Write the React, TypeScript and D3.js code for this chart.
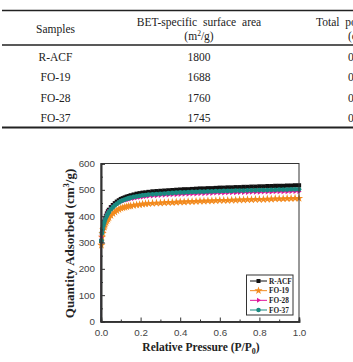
import React, { useEffect, useRef } from 'react';
import * as d3 from 'd3';

// table contents
const sampleNames = ['R-ACF', 'FO-19', 'FO-28', 'FO-37'];
const betArea = ['1800', '1688', '1760', '1745'];
const poreVolume = ['0.81', '0.77', '0.80', '0.79'];

// N2 isotherm: relative pressure and quantity adsorbed (cm3/g)
const pressure = [
  0, 0.002, 0.005, 0.008, 0.012, 0.016, 0.02, 0.025, 0.03, 0.035, 0.04, 0.05, 0.06, 0.07, 0.08, 0.09,
  0.1, 0.11, 0.12, 0.13, 0.14, 0.15, 0.165, 0.18, 0.195, 0.21, 0.225, 0.24, 0.26, 0.28, 0.3, 0.32,
  0.34, 0.36, 0.38, 0.4, 0.42, 0.44, 0.46, 0.48, 0.5, 0.52, 0.54, 0.56, 0.58, 0.6, 0.62, 0.64,
  0.66, 0.68, 0.7, 0.72, 0.74, 0.76, 0.78, 0.8, 0.82, 0.84, 0.86, 0.88, 0.9, 0.92, 0.94, 0.96, 0.98, 1.0,
];
const racf = [
  0, 305, 335, 350, 365, 378, 390, 401, 410, 418, 424, 434, 442, 449, 455, 460,
  465, 468, 471, 474, 476, 479, 482, 485, 487, 489, 490, 492, 494, 495, 496, 497,
  498, 499, 500, 501, 502, 502, 503, 504, 505, 505, 506, 506, 507, 508, 508, 509,
  509, 510, 510, 511, 511, 512, 512, 513, 513, 514, 514, 515, 515, 515, 516, 516, 517, 517,
];
const fo19 = [
  0, 290, 320, 335, 348, 358, 367, 376, 383, 389, 394, 403, 410, 416, 421, 426,
  430, 432, 434, 436, 438, 439, 441, 443, 444, 446, 447, 448, 449, 450, 450, 451,
  452, 452, 453, 454, 454, 455, 455, 456, 457, 457, 458, 458, 459, 460, 460, 460,
  461, 461, 462, 462, 463, 463, 464, 464, 464, 465, 465, 466, 466, 466, 467, 467, 468, 468,
];
const fo28 = [
  0, 320, 342, 355, 368, 379, 388, 397, 405, 412, 418, 427, 435, 441, 446, 451,
  455, 458, 460, 462, 464, 466, 468, 470, 472, 473, 475, 476, 477, 478, 479, 480,
  481, 482, 482, 483, 484, 484, 485, 485, 486, 486, 487, 487, 488, 488, 488, 489,
  489, 489, 490, 490, 490, 491, 491, 491, 492, 492, 492, 493, 493, 493, 493, 494, 494, 494,
];
const fo37 = [
  0, 308, 336, 350, 364, 375, 385, 395, 403, 410, 416, 426, 434, 441, 447, 452,
  457, 460, 463, 466, 468, 470, 473, 475, 477, 479, 480, 482, 483, 484, 485, 486,
  487, 488, 489, 490, 490, 491, 492, 492, 493, 493, 494, 494, 495, 495, 496, 496,
  496, 497, 497, 497, 498, 498, 498, 499, 499, 499, 500, 500, 501, 501, 501, 502, 502, 502,
];

const seriesNames = ['R-ACF', 'FO-19', 'FO-28', 'FO-37'];
const seriesValues = [racf, fo19, fo28, fo37];
const seriesColors = ['#111111', '#f28a1e', '#e0169a', '#1a8a80'];

const yTicks = [0, 100, 200, 300, 400, 500, 600];
const xTicks = [0, 0.2, 0.4, 0.6, 0.8, 1.0];

const serif = '"Liberation Serif", "Times New Roman", serif';
const sans = '"Liberation Sans", Arial, sans-serif';

// right-pointing triangle for FO-28
const triRight = {
  draw(ctx: any, size: number) {
    const r = Math.sqrt(size) * 0.62;
    ctx.moveTo(r, 0);
    ctx.lineTo(-r * 0.6, -r);
    ctx.lineTo(-r * 0.6, r);
    ctx.closePath();
  },
};
const symbolTypes = [d3.symbolSquare, d3.symbolStar, triRight, d3.symbolCircle];

export default function App() {
  const ref = useRef<SVGSVGElement>(null);

  useEffect(() => {
    const svg = d3.select(ref.current);
    svg.selectAll('*').remove();

    // ---- table ----
    const t = svg.append('g').attr('font-family', serif).attr('font-size', 11.5).attr('fill', '#222');
    t.append('line').attr('x1', 2).attr('x2', 353).attr('y1', 10.5).attr('y2', 10.5)
      .attr('stroke', '#222').attr('stroke-width', 1.6);
    t.append('line').attr('x1', 2).attr('x2', 353).attr('y1', 45).attr('y2', 45)
      .attr('stroke', '#222').attr('stroke-width', 1.3);
    t.append('line').attr('x1', 2).attr('x2', 353).attr('y1', 127.5).attr('y2', 127.5)
      .attr('stroke', '#222').attr('stroke-width', 1.8);

    t.append('text').attr('x', 55.5).attr('y', 33).attr('text-anchor', 'middle').text('Samples');
    t.append('text').attr('x', 199).attr('y', 26).attr('text-anchor', 'middle')
      .attr('word-spacing', 3).text('BET-specific surface area');
    const unit = t.append('text').attr('x', 199).attr('y', 40).attr('text-anchor', 'middle');
    unit.append('tspan').text('(m');
    unit.append('tspan').attr('font-size', 7.5).attr('dy', -4).text('2');
    unit.append('tspan').attr('dy', 4).text('/g)');
    // last column runs past the right edge
    t.append('text').attr('x', 316).attr('y', 26).attr('word-spacing', 3).text('Total pore volume');
    t.append('text').attr('x', 348).attr('y', 40).text('(cm³/g)');

    const rowY = d3.scalePoint<string>().domain(sampleNames).range([61, 122]);
    sampleNames.forEach((s, i) => {
      t.append('text').attr('x', 55.5).attr('y', rowY(s)!).attr('text-anchor', 'middle').text(s);
      t.append('text').attr('x', 199).attr('y', rowY(s)!).attr('text-anchor', 'middle').text(betArea[i]);
      t.append('text').attr('x', 348).attr('y', rowY(s)!).text(poreVolume[i]);
    });

    // ---- isotherm chart ----
    const left = 101, right = 299, top = 163.5, bottom = 321.5;
    const x = d3.scaleLinear().domain([0, 1]).range([left, right]);
    const y = d3.scaleLinear().domain([0, 600]).range([bottom, top]);

    const g = svg.append('g');

    seriesValues.forEach((vals, si) => {
      const pts: [number, number][] = pressure.map((p, i) => [p, vals[i]]);
      const line = d3.line<[number, number]>().x(d => x(d[0])).y(d => y(d[1]));
      g.append('path').attr('d', line(pts)!).attr('fill', 'none')
        .attr('stroke', seriesColors[si]).attr('stroke-width', 1.2);
      g.selectAll(null).data(pts.slice(1)).enter().append('path')
        .attr('transform', d => `translate(${x(d[0])},${y(d[1])})`)
        .attr('d', d3.symbol().type(symbolTypes[si] as any).size(si === 1 ? 22 : 18)()!)
        .attr('fill', seriesColors[si]);
    });

    // frame
    g.append('rect').attr('x', left).attr('y', top).attr('width', right - left).attr('height', bottom - top)
      .attr('fill', 'none').attr('stroke', '#333').attr('stroke-width', 1);

    const axisColor = '#333';
    const yAxis = g.append('g').attr('transform', `translate(${left},0)`)
      .call(d3.axisLeft(y).tickValues(yTicks).tickSize(-4).tickPadding(6).tickFormat(d3.format('d')));
    const yMinor = g.append('g').attr('transform', `translate(${left},0)`)
      .call(d3.axisLeft(y).tickValues(d3.range(50, 600, 100)).tickSize(-2).tickFormat(() => ''));
    const xAxis = g.append('g').attr('transform', `translate(0,${bottom})`)
      .call(d3.axisBottom(x).tickValues(xTicks).tickSize(-4).tickPadding(6).tickFormat(d3.format('.1f')));
    const xMinor = g.append('g').attr('transform', `translate(0,${bottom})`)
      .call(d3.axisBottom(x).tickValues(d3.range(0.1, 1, 0.2)).tickSize(-2).tickFormat(() => ''));
    [yAxis, yMinor, xAxis, xMinor].forEach(a => {
      a.select('.domain').attr('stroke', axisColor).attr('stroke-width', 1.6);
      a.selectAll('.tick line').attr('stroke', axisColor).attr('stroke-width', 1);
      a.selectAll('text').attr('font-family', sans).attr('font-size', 9.8).attr('fill', '#444');
    });
    xAxis.selectAll('text').attr('dy', '0.9em');

    // axis titles
    const ty = g.append('text').attr('transform', `translate(74,${(top + bottom) / 2 + 1}) rotate(-90)`)
      .attr('text-anchor', 'middle').attr('font-family', serif).attr('font-weight', 'bold')
      .attr('font-size', 13).attr('fill', '#222');
    ty.append('tspan').text('Quantity Adsorbed (cm');
    ty.append('tspan').attr('font-size', 8.5).attr('dy', -5).text('3');
    ty.append('tspan').attr('dy', 5).text('/g)');

    const tx = g.append('text').attr('x', 201).attr('y', 351).attr('text-anchor', 'middle')
      .attr('font-family', serif).attr('font-weight', 'bold').attr('font-size', 11.5).attr('fill', '#222');
    tx.append('tspan').text('Relative Pressure (P/P');
    tx.append('tspan').attr('font-size', 8).attr('dy', 3).text('0');
    tx.append('tspan').attr('dy', -3).text(')');

    // legend
    const lg = g.append('g');
    lg.append('rect').attr('x', 246.5).attr('y', 275).attr('width', 46.5).attr('height', 40)
      .attr('fill', '#fff').attr('stroke', '#333').attr('stroke-width', 1);
    const ly = d3.scalePoint<string>().domain(seriesNames).range([281, 310]);
    seriesNames.forEach((n, si) => {
      const yy = ly(n)!;
      lg.append('line').attr('x1', 250).attr('x2', 267).attr('y1', yy).attr('y2', yy)
        .attr('stroke', seriesColors[si]).attr('stroke-width', 1);
      lg.append('path').attr('transform', `translate(258.5,${yy})`)
        .attr('d', d3.symbol().type(symbolTypes[si] as any).size(si === 1 ? 20 : 16)()!)
        .attr('fill', seriesColors[si]);
      lg.append('text').attr('x', 269).attr('y', yy + 2.5).attr('font-family', serif)
        .attr('font-weight', 'bold').attr('font-size', 7.3).attr('fill', '#222').text(n);
    });
  }, []);

  return (
    <svg ref={ref} width={353} height={362}
      style={{ position: 'absolute', left: 0, top: 0, background: '#fff' }} />
  );
}
